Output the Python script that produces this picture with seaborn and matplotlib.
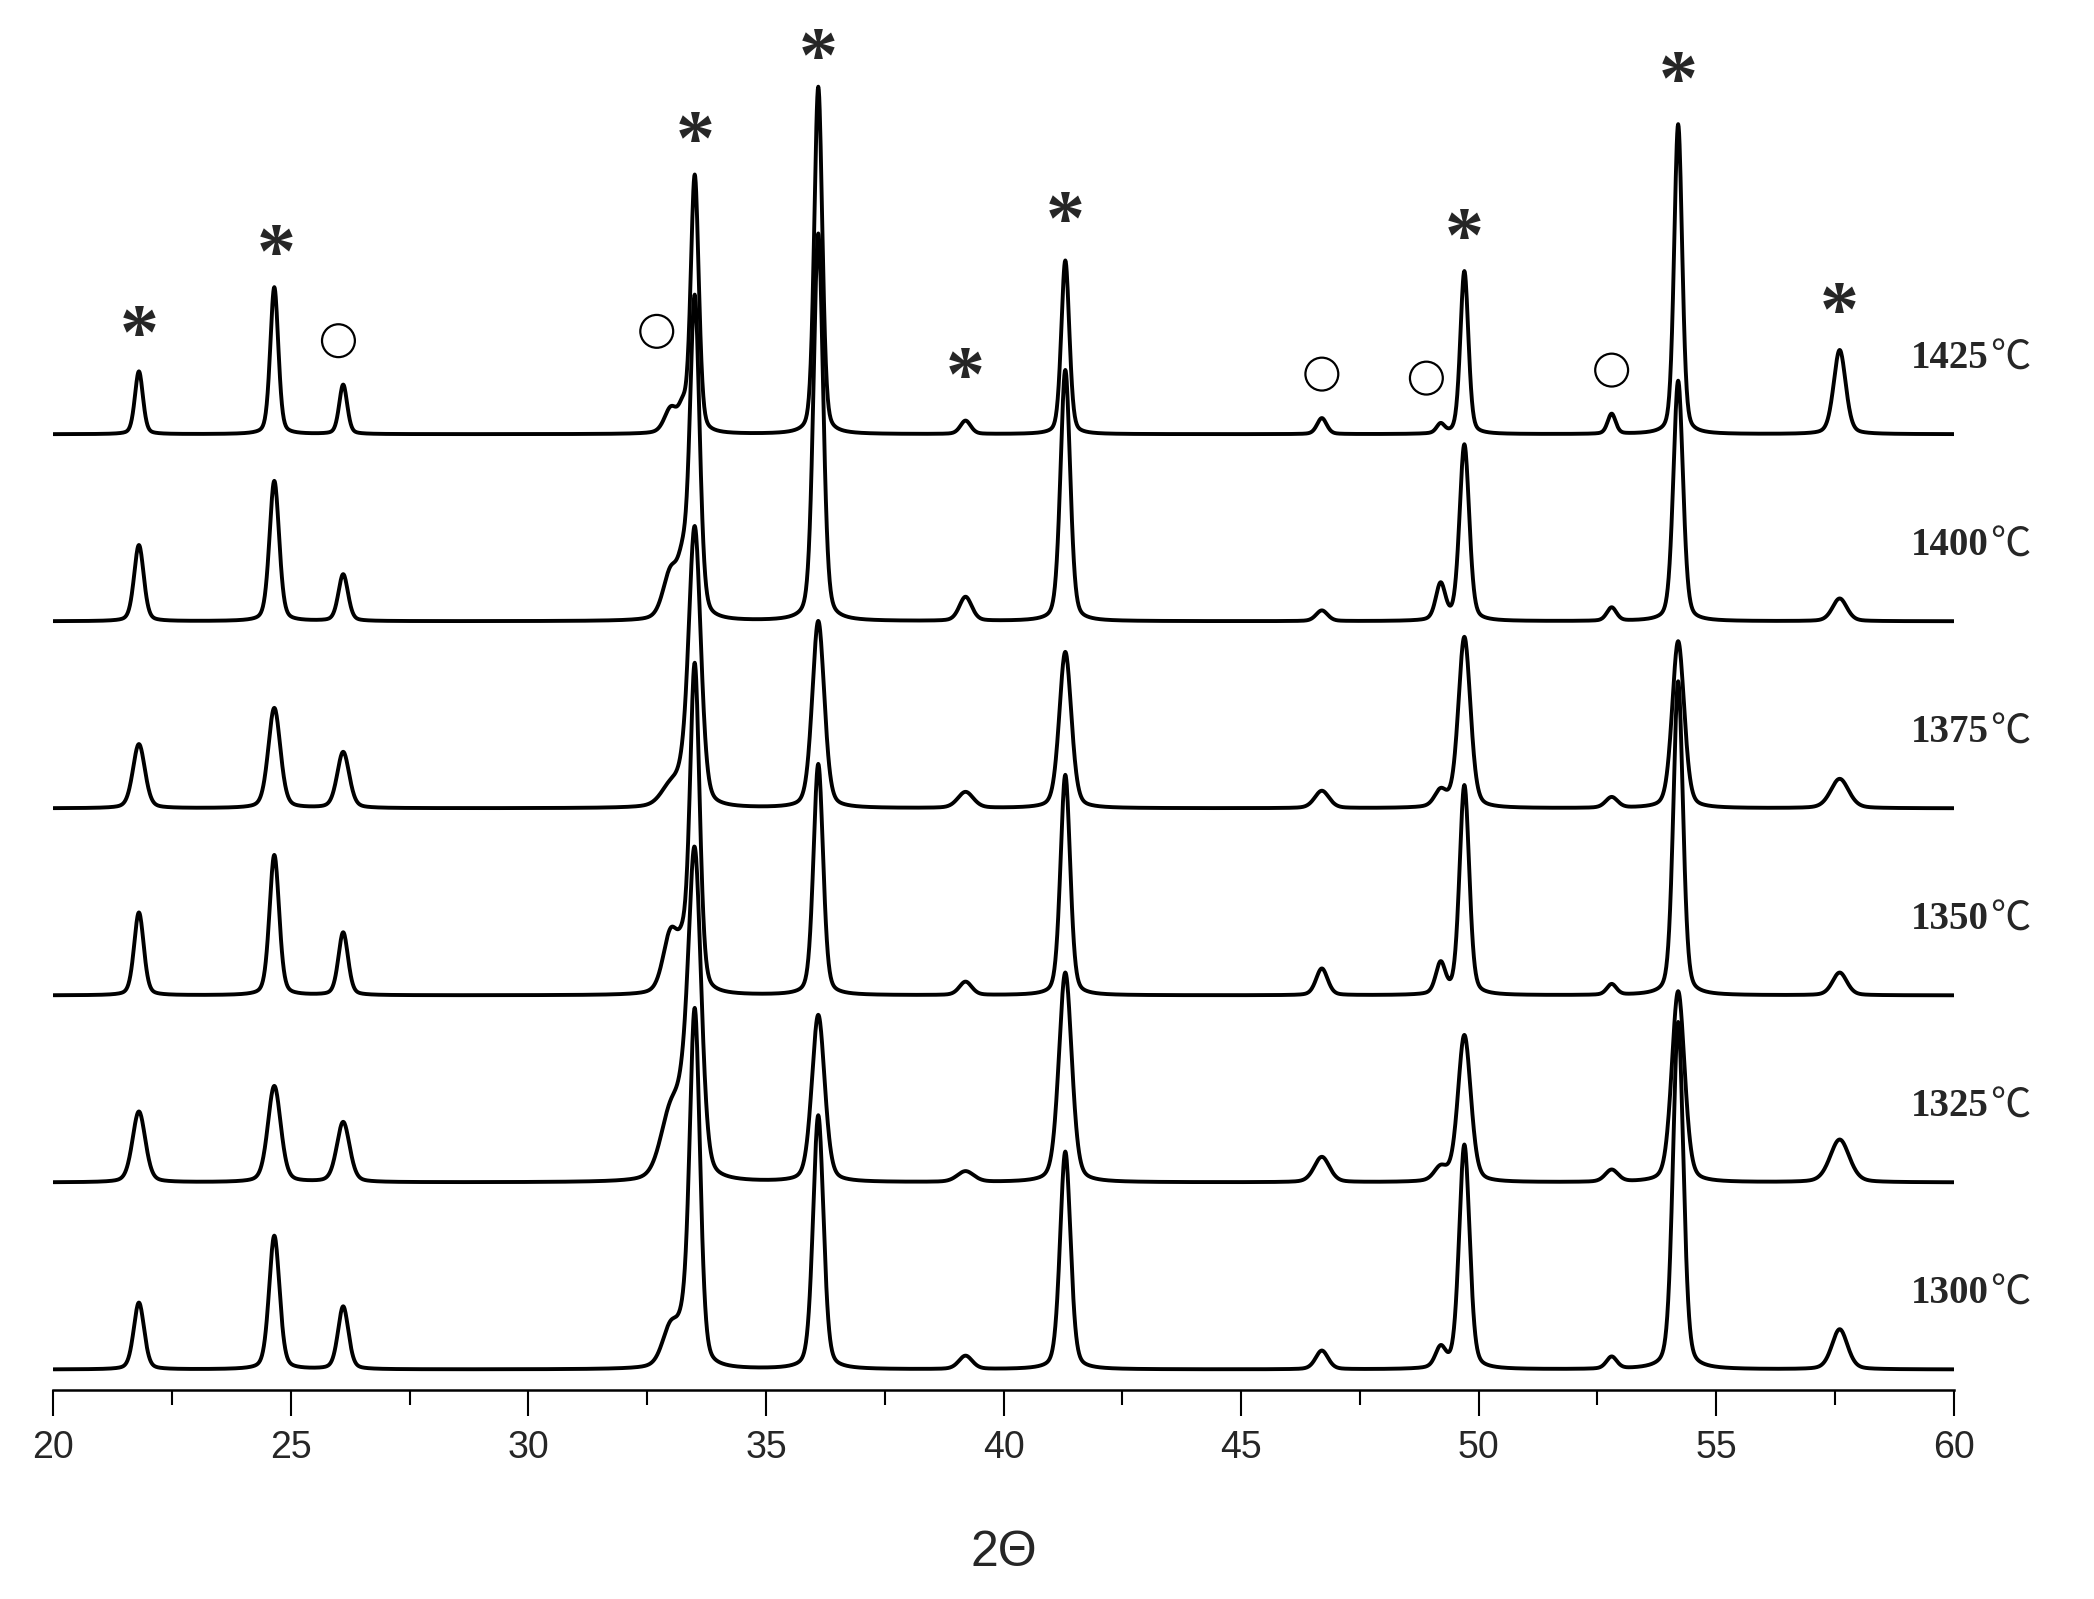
import numpy as np
import pandas as pd
import matplotlib
matplotlib.use("Agg")
import matplotlib.pyplot as plt
import seaborn as sns

# peak positions (2theta) shared by all samples
PEAK_POS = [21.8, 24.65, 26.1, 33.0, 33.25, 33.5, 36.1, 39.2, 41.3, 46.7, 49.2, 49.7, 52.8, 54.2, 57.6]
PEAK_WIDTH_SCALE = [1.0, 1.0, 1.0, 1.6, 1.0, 1.0, 1.0, 1.3, 1.0, 1.2, 1.0, 1.0, 1.0, 1.0, 1.5]

SAMPLES = ['1425℃', '1400℃', '1375℃', '1350℃', '1325℃', '1300℃']
OFFSETS = [700, 560, 420, 280, 140, 0]
FWHM = [0.20, 0.24, 0.30, 0.24, 0.32, 0.26]

h_1425 = [47, 110, 37, 18, 15, 193, 260, 10, 130, 12, 7, 122, 15, 232, 63]
h_1400 = [57, 105, 35, 35, 30, 240, 290, 18, 188, 8, 27, 132, 10, 180, 17]
h_1375 = [48, 75, 42, 15, 10, 208, 140, 12, 117, 13, 12, 128, 8, 125, 22]
h_1350 = [62, 105, 47, 45, 20, 245, 173, 10, 165, 20, 23, 157, 8, 235, 17]
h_1325 = [53, 72, 45, 50, 25, 240, 125, 8, 157, 19, 10, 110, 9, 143, 32]
h_1300 = [50, 100, 47, 30, 15, 267, 190, 10, 163, 14, 15, 168, 9, 260, 30]
HEIGHTS = [h_1425, h_1400, h_1375, h_1350, h_1325, h_1300]

# phase markers above the top pattern
star_x = [21.8, 24.7, 33.5, 36.1, 39.2, 41.3, 49.7, 54.2, 57.6]
star_y = [772, 832, 917, 979, 740, 857, 844, 962, 789]
circle_x = [26.0, 32.7, 46.7, 48.9, 52.8]
circle_y = [770, 777, 745, 742, 748]

LABEL_X = 59.1
LABEL_DY = 57


def pattern(x, pos, hts, w, wscale):
    y = np.zeros_like(x)
    for p, h, s in zip(pos, hts, wscale):
        f = w * s
        g = np.exp(-4 * np.log(2) * ((x - p) / f) ** 2)
        l = 1 / (1 + 4 * ((x - p) / f) ** 2)
        y += h * (0.7 * g + 0.3 * l)
    return y


x = np.arange(20, 60.0001, 0.01)
frames = []
for name, off, w, hts in zip(SAMPLES, OFFSETS, FWHM, HEIGHTS):
    frames.append(pd.DataFrame({'two_theta': x,
                                'intensity': pattern(x, PEAK_POS, hts, w, PEAK_WIDTH_SCALE) + off,
                                'sample': name}))
df = pd.concat(frames, ignore_index=True)

sns.set_theme(style='white')
plt.rcParams['font.family'] = ['Liberation Sans', 'DejaVu Sans']

fig = plt.figure(figsize=(20.94, 15.99), dpi=100)
ax = fig.add_axes([0.0255, 0.131, 0.9075, 0.869])

sns.lineplot(data=df, x='two_theta', y='intensity', hue='sample', palette=['black'] * 6,
             estimator=None, sort=False, legend=False, linewidth=2.8, ax=ax)

for name, off in zip(SAMPLES, OFFSETS):
    ax.text(LABEL_X, off + LABEL_DY, name[:-1], ha='left', va='center', fontsize=28,
            fontweight='bold', family=['Liberation Serif', 'DejaVu Serif'], clip_on=False)
    ax.annotate(name[-1], (LABEL_X, off + LABEL_DY), xytext=(57, 0), textcoords='offset points',
                ha='left', va='center', fontsize=29, family=['Noto Sans CJK SC', 'DejaVu Sans'],
                annotation_clip=False)

for sx, sy in zip(star_x, star_y):
    ax.text(sx, sy, '*', ha='center', va='center', fontsize=56, fontweight='bold',
            family=['Liberation Serif', 'DejaVu Serif'])

sns.scatterplot(x=circle_x, y=circle_y, marker='o', s=560, facecolors='none',
                edgecolor='black', linewidth=1.6, ax=ax, legend=False)

ax.set_xlim(20, 60)
ax.set_ylim(-15, 1025)
ax.set_xticks(np.arange(20, 61, 5))
ax.set_xticks(np.arange(22.5, 60, 5), minor=True)
ax.tick_params(axis='x', which='major', direction='out', length=19, width=1.5,
               labelsize=27, pad=10, bottom=True, color='black')
ax.tick_params(axis='x', which='minor', direction='out', length=11, width=1.5,
               bottom=True, color='black')
ax.set_yticks([])
ax.set_ylabel('')
for side in ['top', 'right', 'left']:
    ax.spines[side].set_visible(False)
ax.spines['bottom'].set_linewidth(1.8)
ax.spines['bottom'].set_color('black')
ax.set_xlabel('2Θ', fontsize=36, labelpad=46)

fig.savefig('out.png', dpi=100)
